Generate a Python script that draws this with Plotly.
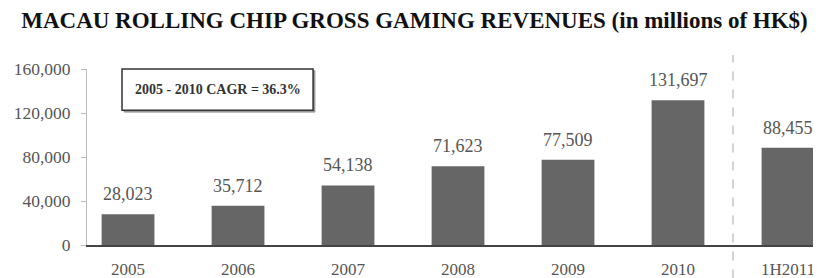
import plotly.graph_objects as go

categories = ["2005", "2006", "2007", "2008", "2009", "2010", "1H2011"]
revenues = [28023, 35712, 54138, 71623, 77509, 131697, 88455]
y_ticks = [0, 40000, 80000, 120000, 160000]
title_text = "MACAU ROLLING CHIP GROSS GAMING REVENUES (in millions of HK$)"
cagr_text = "2005 - 2010 CAGR = 36.3%"

xs = list(range(len(categories)))
FONT = "Liberation Serif, Times New Roman, serif"

# page body has an 8px margin; figure sized to fill the rest of the window
fig = go.Figure()
fig.add_trace(go.Bar(
    x=xs, y=revenues, width=0.48,
    marker=dict(color="#666666", line=dict(width=0)),
    cliponaxis=False,
))

for xi, v in zip(xs, revenues):
    fig.add_annotation(x=xi, y=v, xref="x", yref="y", text=f"{v:,}", showarrow=False,
                       xanchor="center", yanchor="bottom", yshift=8,
                       font=dict(family=FONT, size=18, color="#555555"))

fig.update_layout(
    width=813, height=270,
    margin=dict(l=79, r=0, t=61, b=33),
    plot_bgcolor="white", paper_bgcolor="white",
    showlegend=False,
    title=dict(text=f"<b>{title_text}</b>", x=0.5, xanchor="center", y=0.955, yanchor="middle",
               font=dict(family=FONT, size=23, color="#111111")),
    xaxis=dict(range=[-0.373, 6.3], tickvals=xs, ticktext=categories,
               showline=True, linecolor="#444444", linewidth=2,
               showgrid=False, zeroline=False, ticks="",
               ticklabelstandoff=8,
               tickfont=dict(family=FONT, size=17, color="#555555")),
    yaxis=dict(range=[0, 160000], tickvals=y_ticks, tickformat=",",
               showline=True, linecolor="#bbbbbb", linewidth=1,
               ticks="outside", ticklen=5, tickcolor="#bbbbbb",
               showgrid=False, zeroline=False,
               ticklabelstandoff=7,
               tickfont=dict(family=FONT, size=17.5, color="#555555")),
)

fig.add_shape(type="line", xref="x", yref="paper", x0=5.5, x1=5.5, y0=-0.19, y1=1.08,
              line=dict(color="#aaaaaa", width=1, dash="dash"))
# CAGR box with slight shadow
fig.add_shape(type="rect", xref="paper", yref="paper", x0=0.0505, x1=0.3105, y0=0.755, y1=0.99,
              line=dict(color="#999999", width=1), fillcolor="#999999", layer="above")
fig.add_shape(type="rect", xref="paper", yref="paper", x0=0.0477, x1=0.308, y0=0.766, y1=1.0,
              line=dict(color="#333333", width=1.5), fillcolor="white", layer="above")
fig.add_annotation(xref="paper", yref="paper", x=0.178, y=0.883, xanchor="center", yanchor="middle",
                   text=f"<b>{cagr_text}</b>",
                   showarrow=False, font=dict(family=FONT, size=14, color="#333333"))

fig.write_html("out.html")
